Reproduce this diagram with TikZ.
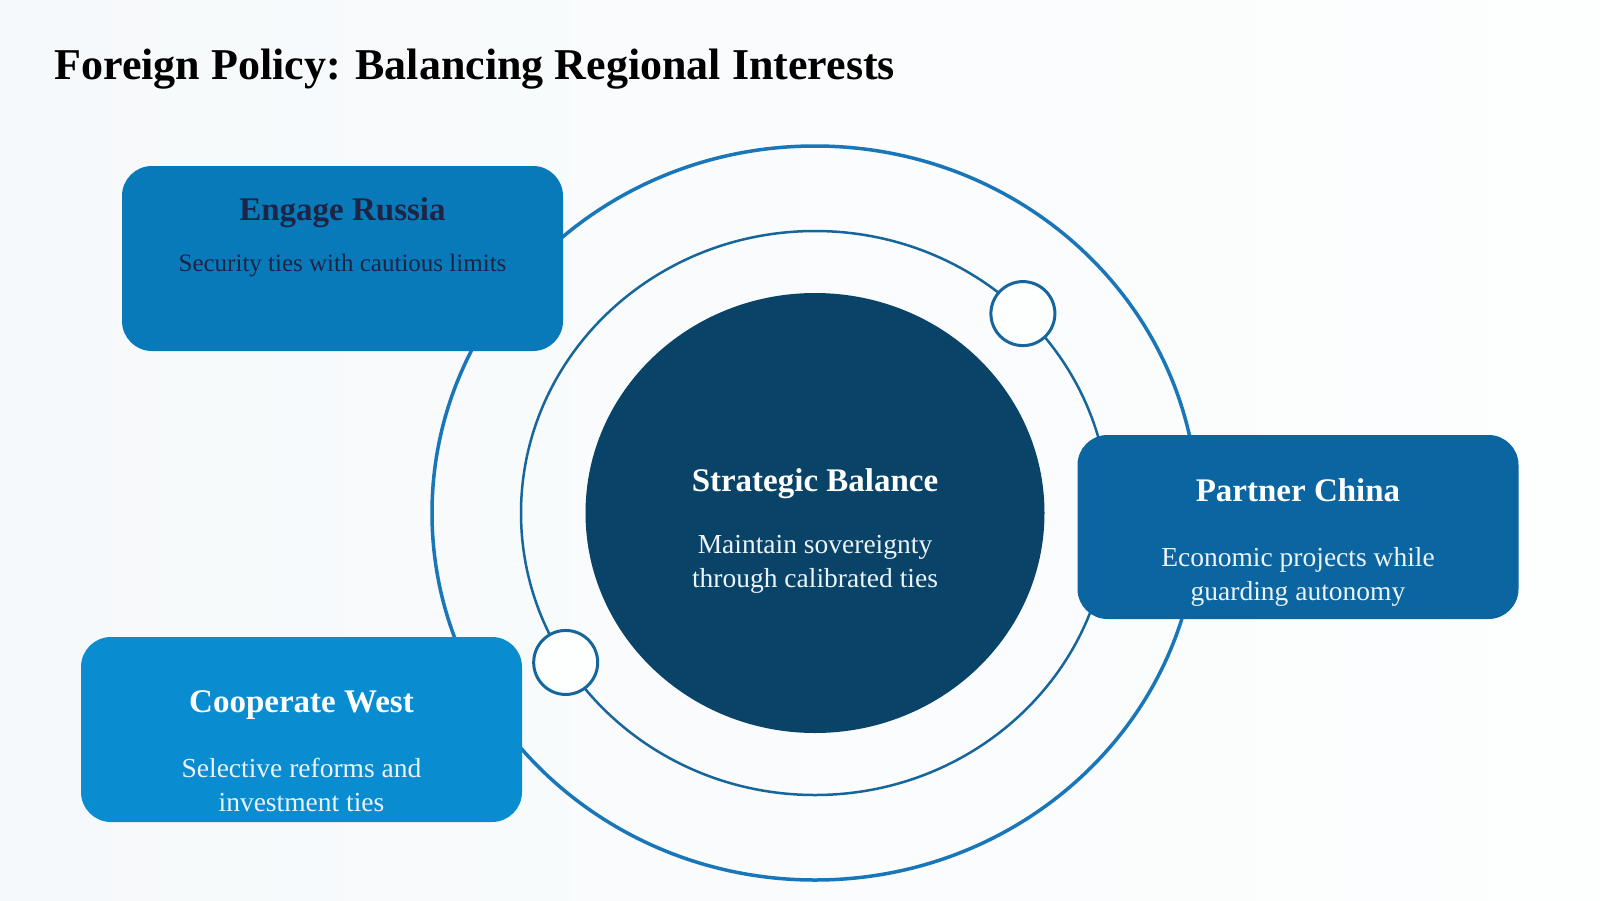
\documentclass[tikz,border=0pt]{standalone}
\usepackage{fontspec}
\setmainfont{Liberation Serif}
\usetikzlibrary{shapes.geometric, positioning, calc}

\definecolor{bgleft}{RGB}{246,249,251}
\definecolor{bgright}{RGB}{253,254,254}
\definecolor{ringcol}{RGB}{25,118,184}
\definecolor{innercol}{RGB}{22,102,156}
\definecolor{corecol}{RGB}{9,68,104}
\definecolor{russiacol}{RGB}{8,122,186}
\definecolor{chinacol}{RGB}{10,101,160}
\definecolor{westcol}{RGB}{10,140,208}
\definecolor{darktext}{RGB}{30,36,68}
\definecolor{lighttext}{RGB}{236,243,250}

\begin{document}
\begin{tikzpicture}[x=1pt, y=-1pt,
  ring/.style={ellipse, draw=ringcol, line width=3.5pt, inner sep=0pt},
  card/.style={rounded corners=30pt, minimum width=441pt, minimum height=185pt, inner sep=0pt},
  head/.style={anchor=base, text=white, font=\fontsize{33}{40}\selectfont\bfseries},
  body/.style={align=center, text=lighttext, font=\fontsize{27.5}{34}\selectfont},
  dot/.style={circle, fill=bgright, draw=innercol, line width=3pt, minimum size=64pt, inner sep=0pt}]

\fill[left color=bgleft, right color=bgright] (0,0) rectangle (1600,900);
\useasboundingbox (0,0) rectangle (1600,900);

\node[anchor=base west, font=\fontsize{44}{53}\selectfont\bfseries] (title) at (51,79) {Foreign Policy: Balancing Regional Interests};

\node[ring, minimum width=766pt, minimum height=734pt] (outer) at (815,513) {};
\node[ring, draw=innercol, line width=2.5pt, minimum width=588pt, minimum height=564pt] (inner) at (outer.center) {};
\node[ellipse, fill=corecol, inner sep=0pt, minimum width=459pt, minimum height=440pt] (core) at (outer.center) {};

\node[dot] (dotne) at ($(inner.center)+({294*cos(45)},{-282*sin(45)})$) {};
\node[dot] (dotsw) at ($(inner.center)+({294*cos(212)},{-282*sin(212)})$) {};

\node[card, fill=russiacol] (russia) at (342.5,258.5) {};
\node[card, fill=chinacol, minimum height=184pt] (china) at (1298,527) {};
\node[card, fill=westcol] (west) at (301.5,729.5) {};

\node[head] (corehead) at ($(core.center)+(0,-22)$) {Strategic Balance};
\node[body] (corebody) at ($(core.center)+(0,51.5)$) {Maintain sovereignty\\through calibrated ties};

\node[head, text=darktext] (russiahead) at ($(russia.north)+(0,55)$) {Engage Russia};
\node[anchor=base, text=darktext, font=\fontsize{25}{30}\selectfont] (russiabody) at ($(russia.north)+(0,106)$) {Security ties with cautious limits};

\node[head] (chinahead) at ($(china.north)+(0,67)$) {Partner China};
\node[body] (chinabody) at ($(china.north)+(0,142.5)$) {Economic projects while\\guarding autonomy};

\node[head] (westhead) at ($(west.north)+(0,76)$) {Cooperate West};
\node[body] (westbody) at ($(west.north)+(0,148.5)$) {Selective reforms and\\investment ties};

\end{tikzpicture}
\end{document}
